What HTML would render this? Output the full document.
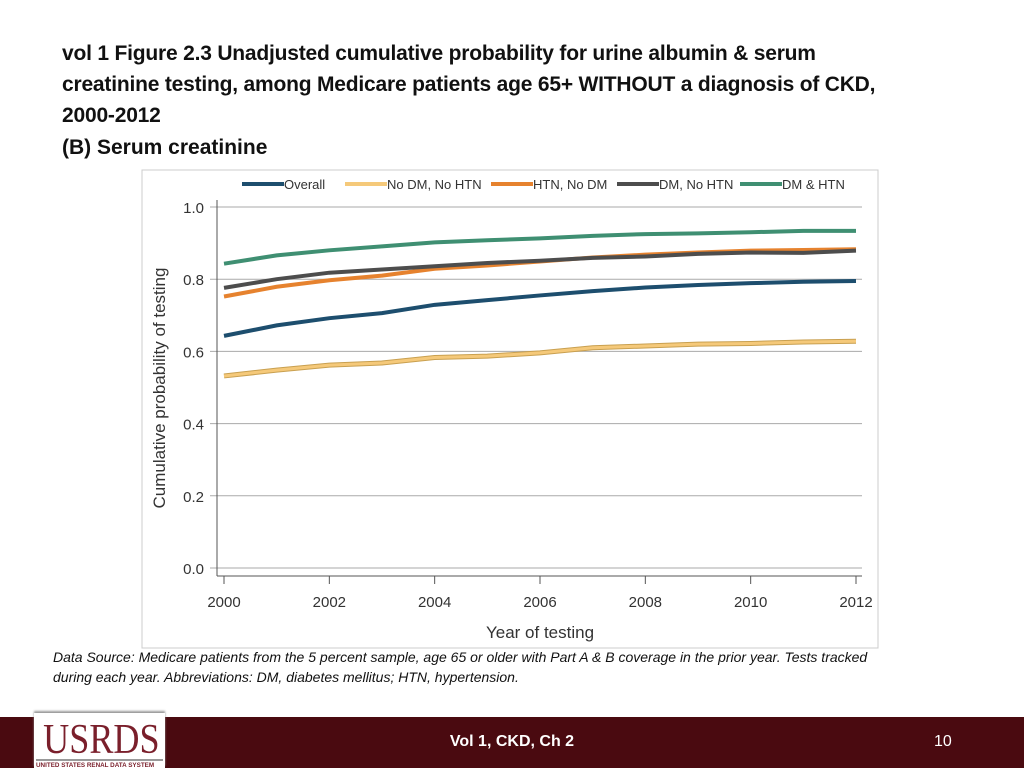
<!DOCTYPE html>
<html><head><meta charset="utf-8"><style>
body{margin:0;width:1024px;height:768px;position:relative;background:#fff;font-family:"Liberation Sans",sans-serif;overflow:hidden}
#title{position:absolute;left:62px;top:38px;font-size:21px;font-weight:bold;line-height:31px;color:#111;white-space:nowrap;letter-spacing:-0.2px}
#sub{position:absolute;left:62px;top:136px;font-size:21px;font-weight:bold;color:#111}
#src{position:absolute;left:53px;top:647px;font-size:14px;font-style:italic;line-height:20px;color:#111;white-space:nowrap}
#footer{position:absolute;left:0;top:717px;width:1024px;height:51px;background:#4a0a10}
#logo{position:absolute;left:34px;top:713px;width:131px;height:55px;background:#fff;box-shadow:0 -2px 2px #999;overflow:hidden}
</style></head><body>
<div id="title">vol 1 Figure 2.3 Unadjusted cumulative probability for urine albumin &amp; serum<br>creatinine testing, among Medicare patients age 65+ WITHOUT a diagnosis of CKD,<br>2000-2012</div>
<div id="sub">(B) Serum creatinine</div>
<svg id="chart" style="position:absolute;left:0;top:0" width="1024" height="700"></svg>
<div id="src">Data Source: Medicare patients from the 5 percent sample, age 65 or older with Part A &amp; B coverage in the prior year. Tests tracked<br>during each year. Abbreviations: DM, diabetes mellitus; HTN, hypertension.</div>
<div id="footer">
<div style="position:absolute;left:0;width:1024px;top:16px;text-align:center;color:#fff;font-size:16px;font-weight:bold">Vol 1, CKD, Ch 2</div>
<div style="position:absolute;left:934px;top:16px;color:#fff;font-size:16px">10</div>
</div>
<div id="logo">
<div style="position:absolute;left:0;top:8px;width:131px;text-align:center;font-family:'Liberation Serif',serif;font-size:42px;line-height:38px;color:#7a1f2b;transform:scaleX(0.86);transform-origin:center">USRDS</div>
<div style="position:absolute;left:2px;top:46px;width:127px;height:2px;background:#999"></div>
<div style="position:absolute;left:2px;top:49px;font-size:6.3px;font-weight:bold;color:#7a1f2b;white-space:nowrap">UNITED STATES RENAL DATA SYSTEM</div>
</div>
<script>
const years=[2000,2001,2002,2003,2004,2005,2006,2007,2008,2009,2010,2011,2012];
const overall=[0.643,0.672,0.692,0.706,0.729,0.742,0.755,0.767,0.777,0.784,0.789,0.793,0.795];
const noDmNoHtn=[0.532,0.548,0.562,0.568,0.583,0.587,0.596,0.610,0.615,0.620,0.622,0.626,0.628];
const htnNoDm=[0.752,0.779,0.797,0.810,0.829,0.838,0.849,0.860,0.868,0.874,0.879,0.881,0.883];
const dmNoHtn=[0.776,0.800,0.818,0.827,0.836,0.845,0.851,0.859,0.863,0.870,0.874,0.873,0.879];
const dmHtn=[0.843,0.866,0.880,0.891,0.902,0.908,0.913,0.920,0.925,0.927,0.930,0.934,0.934];
const yTicks=[0,0.2,0.4,0.6,0.8,1.0];
const xTicks=[2000,2002,2004,2006,2008,2010,2012];
const svg=document.getElementById('chart');const NS='http://www.w3.org/2000/svg';
const X=v=>224+(v-2000)/12*632;const Y=v=>568-v*361;
function mk(t,a,p){const e=document.createElementNS(NS,t);for(const k in a)e.setAttribute(k,a[k]);(p||svg).appendChild(e);return e;}
let r=mk('rect',{x:142,y:170,width:736,height:478,fill:'#fff',stroke:'#ccc'});


yTicks.forEach(v=>{let g=mk('line',{x1:210,x2:862,y1:Y(v),y2:Y(v),stroke:'#aaa','stroke-width':1});


let t=mk('text',{x:204,y:Y(v)+6,'text-anchor':'end','font-size':15,fill:'#333'});t.textContent=v.toFixed(1);

});
let ya=mk('line',{x1:217,x2:217,y1:200,y2:576,stroke:'#555'});


let xa=mk('line',{x1:217,x2:862,y1:576,y2:576,stroke:'#555'});


xTicks.forEach(v=>{mk('line',{x1:X(v),x2:X(v),y1:576,y2:584,stroke:'#555'});
let t=mk('text',{x:X(v),y:607,'text-anchor':'middle','font-size':15,fill:'#333'});t.textContent=v;

});
let xt=mk('text',{x:540,y:638,'text-anchor':'middle','font-size':17,fill:'#333'});xt.textContent='Year of testing';


let yt=mk('text',{x:0,y:0,'text-anchor':'middle','font-size':17,fill:'#333',transform:'translate(165,388) rotate(-90)'});yt.textContent='Cumulative probability of testing';


const series=[['Overall',overall,'#1d4e6e',null,242],['No DM, No HTN',noDmNoHtn,'#f5c97a','#c9a050',345],['HTN, No DM',htnNoDm,'#e6822e',null,491],['DM, No HTN',dmNoHtn,'#4d4d4d',null,617],['DM & HTN',dmHtn,'#3f8f72',null,740]];
series.forEach(s=>{const pts=years.map((y,i)=>X(y)+','+Y(s[1][i])).join(' ');
if(s[3])mk('polyline',{points:pts,fill:'none',stroke:s[3],'stroke-width':5});
let l=mk('polyline',{points:pts,fill:'none',stroke:s[2],'stroke-width':s[3]?3:4});


let lg=mk('line',{x1:s[4],x2:s[4]+42,y1:184,y2:184,stroke:s[2],'stroke-width':4});


let lt=mk('text',{x:s[4]+42,y:189,'font-size':13,fill:'#333'});lt.textContent=s[0];

});
</script>
</body></html>
